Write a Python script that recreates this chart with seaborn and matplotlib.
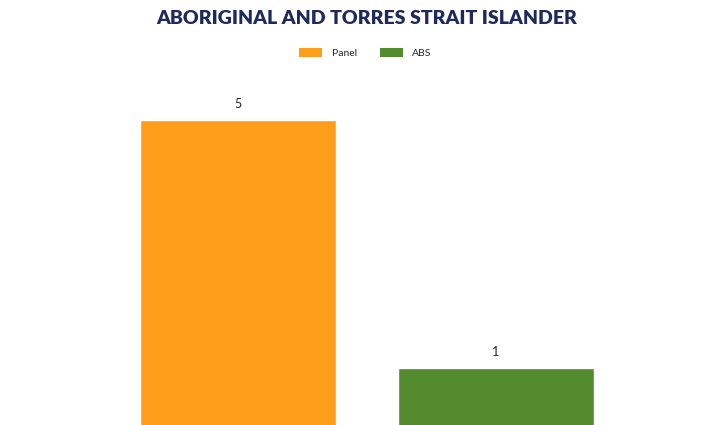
import matplotlib
matplotlib.use("Agg")
import matplotlib.pyplot as plt
import seaborn as sns
import pandas as pd
from matplotlib.patches import Patch

# Data
categories = ["Panel", "ABS"]
values = [5, 1]
colors = ["#FF9E1B", "#548B2F"]
title = "ABORIGINAL AND TORRES STRAIT ISLANDER"

sns.set_theme(style="white")
plt.rcParams["font.family"] = ["Lato", "DejaVu Sans"]

df = pd.DataFrame({"group": categories, "value": values})

fig = plt.figure(figsize=(7.19, 4.25), dpi=100)
ax = fig.add_axes([0, 0, 1, 1])

sns.barplot(data=df, x="group", y="value", hue="group", palette=colors,
            order=categories, hue_order=categories, dodge=False,
            width=0.76, legend=False, ax=ax, saturation=1)

ax.set_xlim(-0.922, 1.864)
ax.set_ylim(0.08, 6.935)
ax.axis("off")

for i, v in enumerate(values):
    ax.annotate(f"{v}", xy=(i, v), xytext=(0, 7.5), textcoords="offset points",
                ha="center", va="bottom", fontsize=9, color="#222222")

fig.text(0.51, 0.957, title, ha="center", va="center", fontsize=14,
         fontweight="heavy", color="#1F2A5C")

handles = [Patch(facecolor=c, edgecolor="none") for c in colors]
fig.legend(handles, categories, loc="center", bbox_to_anchor=(0.508, 0.875),
           ncol=2, frameon=False, fontsize=7.5, handlelength=2.2,
           handleheight=0.9, columnspacing=2.2, handletextpad=0.9)

fig.savefig("out.png", dpi=100)
